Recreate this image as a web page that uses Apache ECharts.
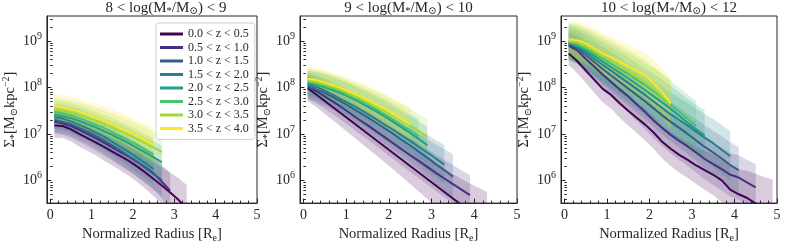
<!DOCTYPE html>
<html><head><meta charset="utf-8">
<script src="https://cdn.jsdelivr.net/npm/echarts@6/dist/echarts.min.js"></script>
<style>html,body{margin:0;padding:0;background:#fff}#c{width:793px;height:248px}</style>
</head><body><div id="c"></div>
<script>
// ---------------- data (log10 of surface density) ----------------
const radius = [0.1,0.3,0.5,0.7,0.9,1.1,1.3,1.5,1.7,1.9,2.1,2.3,2.5,2.7,2.9,3.1,3.3,3.5,3.7,3.9,4.1,4.3,4.5,4.7,4.9];
const zBins = ['0.0 < z < 0.5','0.5 < z < 1.0','1.0 < z < 1.5','1.5 < z < 2.0','2.0 < z < 2.5','2.5 < z < 3.0','3.0 < z < 3.5','3.5 < z < 4.0'];
const colors = ['#440154','#46327e','#365c8d','#277f8e','#1fa187','#4ac16d','#a0da39','#fde725'];
const massBins = [['8','9'],['9','10'],['10','12']];
const xTicks = [0,1,2,3,4,5];
const yTickExp = [6,7,8,9];
const yMinorMult = [2,3,4,5,6,7,8,9];

const panel1Median = [
  [7.18,7.17,7.10,7.00,6.91,6.82,6.72,6.62,6.52,6.42,6.30,6.17,6.03,5.89,5.74,5.58,5.40],
  [7.26,7.23,7.17,7.09,7.00,6.91,6.81,6.71,6.61,6.51,6.40,6.28,6.15,5.97,5.78],
  [7.30,7.26,7.21,7.13,7.05,6.96,6.86,6.75,6.64,6.52,6.40,6.27,6.14,6.00],
  [7.36,7.33,7.27,7.20,7.12,7.03,6.94,6.83,6.72,6.61,6.49,6.37,6.24],
  [7.41,7.38,7.34,7.28,7.21,7.14,7.06,6.98,6.89,6.80,6.70,6.60,6.50,6.39],
  [7.47,7.44,7.40,7.34,7.27,7.20,7.13,7.04,6.95,6.86,6.77,6.66,6.56],
  [7.53,7.50,7.46,7.41,7.35,7.29,7.22,7.14,7.06,6.98,6.89,6.80,6.71,6.61],
  [7.60,7.57,7.53,7.48,7.42,7.36,7.29,7.21,7.13,7.05,6.96,6.86,6.77]
];
const panel1Sigma = [
  [0.26,0.26,0.26,0.27,0.27,0.28,0.29,0.30,0.31,0.32,0.33,0.35,0.37,0.40,0.43,0.47,0.50],
  [0.25,0.25,0.25,0.26,0.26,0.27,0.28,0.29,0.30,0.31,0.32,0.33,0.34,0.36,0.38],
  [0.25,0.25,0.25,0.26,0.26,0.27,0.28,0.29,0.30,0.31,0.32,0.33,0.34,0.35],
  [0.25,0.25,0.25,0.26,0.26,0.27,0.28,0.29,0.30,0.31,0.32,0.33,0.34],
  [0.25,0.25,0.25,0.26,0.26,0.27,0.28,0.29,0.30,0.31,0.32,0.33,0.34,0.35],
  [0.26,0.26,0.26,0.27,0.27,0.28,0.29,0.30,0.31,0.32,0.33,0.34,0.35],
  [0.26,0.26,0.26,0.27,0.27,0.28,0.29,0.30,0.31,0.32,0.33,0.34,0.35,0.36],
  [0.27,0.27,0.27,0.28,0.28,0.29,0.30,0.31,0.32,0.33,0.34,0.35,0.36]
];
const panel2Median = [
  [7.98,7.85,7.71,7.57,7.43,7.29,7.15,7.01,6.87,6.73,6.59,6.45,6.31,6.17,6.03,5.89,5.75,5.61,5.47,5.33,5.19,5.05],
  [8.00,7.92,7.81,7.69,7.57,7.44,7.31,7.19,7.06,6.93,6.80,6.67,6.54,6.42,6.29,6.16,6.04,5.92,5.80,5.68],
  [8.03,7.96,7.88,7.79,7.69,7.58,7.47,7.36,7.24,7.12,7.00,6.87,6.75,6.62,6.49,6.35,6.22,6.08],
  [8.07,8.01,7.93,7.84,7.74,7.64,7.54,7.43,7.32,7.20,7.09,6.97,6.85,6.72,6.60,6.47,6.34],
  [8.10,8.07,8.01,7.94,7.87,7.78,7.69,7.59,7.49,7.38,7.26,7.14,7.02,6.89,6.76],
  [8.12,8.09,8.03,7.97,7.90,7.81,7.72,7.63,7.53,7.42,7.31,7.19,7.07,6.95],
  [8.15,8.12,8.07,8.01,7.94,7.86,7.78,7.69,7.60,7.50,7.39,7.29,7.18,7.06,6.94],
  [8.19,8.16,8.11,8.05,7.98,7.90,7.82,7.73,7.63,7.54,7.43,7.32,7.21]
];
const panel2Sigma = [
  [0.27,0.27,0.28,0.28,0.29,0.30,0.31,0.32,0.33,0.34,0.35,0.37,0.39,0.41,0.43,0.46,0.49,0.52,0.56,0.60,0.65,0.70],
  [0.26,0.26,0.27,0.27,0.28,0.29,0.30,0.31,0.32,0.33,0.34,0.35,0.36,0.37,0.38,0.39,0.40,0.41,0.42,0.43],
  [0.26,0.26,0.27,0.27,0.28,0.29,0.30,0.31,0.32,0.33,0.34,0.35,0.36,0.38,0.40,0.42,0.45,0.48],
  [0.26,0.26,0.27,0.27,0.28,0.29,0.30,0.31,0.32,0.33,0.34,0.35,0.36,0.37,0.38,0.40,0.42],
  [0.26,0.26,0.27,0.27,0.28,0.29,0.30,0.31,0.32,0.33,0.34,0.35,0.36,0.38,0.40],
  [0.26,0.26,0.27,0.27,0.28,0.29,0.30,0.31,0.32,0.33,0.34,0.35,0.36,0.38],
  [0.26,0.26,0.27,0.27,0.28,0.29,0.30,0.31,0.32,0.33,0.34,0.35,0.36,0.37,0.38],
  [0.26,0.26,0.27,0.27,0.28,0.29,0.30,0.31,0.32,0.33,0.34,0.35,0.36]
];
const panel3Median = [
  [8.73,8.57,8.37,8.17,7.97,7.84,7.66,7.50,7.35,7.20,7.03,6.83,6.68,6.55,6.44,6.32,6.22,6.12,6.00,5.80,5.70,5.62,5.50,5.35,5.20],
  [8.90,8.80,8.62,8.45,8.28,8.12,7.96,7.81,7.64,7.47,7.29,7.13,6.98,6.85,6.73,6.60,6.46,6.35,6.24,6.12,6.06,5.95,5.85],
  [8.93,8.85,8.70,8.55,8.40,8.26,8.12,7.98,7.84,7.70,7.55,7.40,7.26,7.13,7.00,6.86,6.72,6.60,6.47,6.33,6.22],
  [8.96,8.88,8.76,8.62,8.49,8.36,8.23,8.10,7.97,7.84,7.70,7.56,7.42,7.30,7.18,7.05,6.92,6.80,6.66,6.52],
  [8.96,8.90,8.80,8.68,8.56,8.44,8.32,8.20,8.07,7.94,7.81,7.68,7.54,7.39,7.24,7.10,6.97],
  [8.98,8.93,8.84,8.73,8.62,8.51,8.40,8.29,8.17,8.05,7.92,7.78,7.63,7.48,7.32,7.17],
  [9.00,8.97,8.89,8.79,8.68,8.58,8.47,8.36,8.24,8.11,7.97,7.81,7.64],
  [9.04,9.02,8.95,8.84,8.73,8.65,8.56,8.46,8.36,8.26,8.10,7.90,7.66]
];
const panel3Sigma = [
  [0.25,0.26,0.27,0.28,0.29,0.30,0.31,0.32,0.33,0.34,0.35,0.36,0.37,0.38,0.39,0.40,0.42,0.44,0.47,0.50,0.54,0.58,0.64,0.72,0.82],
  [0.28,0.29,0.30,0.31,0.32,0.33,0.34,0.35,0.36,0.37,0.38,0.39,0.40,0.41,0.42,0.43,0.44,0.45,0.46,0.47,0.48,0.49,0.50],
  [0.30,0.31,0.32,0.33,0.34,0.35,0.36,0.37,0.38,0.39,0.40,0.41,0.42,0.43,0.44,0.45,0.46,0.47,0.48,0.49,0.50],
  [0.35,0.36,0.37,0.38,0.39,0.40,0.41,0.42,0.43,0.44,0.45,0.46,0.47,0.48,0.49,0.50,0.51,0.52,0.53,0.54],
  [0.38,0.39,0.40,0.41,0.42,0.43,0.44,0.45,0.46,0.47,0.48,0.49,0.50,0.51,0.52,0.53,0.54],
  [0.40,0.40,0.41,0.42,0.43,0.44,0.45,0.46,0.47,0.48,0.49,0.50,0.51,0.52,0.53,0.54],
  [0.40,0.40,0.41,0.42,0.43,0.44,0.45,0.46,0.47,0.48,0.49,0.50,0.52],
  [0.40,0.40,0.41,0.42,0.43,0.44,0.45,0.46,0.47,0.48,0.50,0.52,0.55]
];

// ---------------- layout / style ----------------
const FONT = "'Liberation Serif','DejaVu Serif',serif";
const INK = '#262626';
const X_MIN = -0.08, X_MAX = 5, Y_MIN = 5.51, Y_MAX = 9.54;
const grids = [
  {left: 40, top: 16, width: 217, height: 198},
  {left: 300, top: 16, width: 217, height: 198},
  {left: 561, top: 16, width: 216, height: 198}
];
const titleCenters = [166, 408.5, 669];
const medians = [panel1Median, panel2Median, panel3Median];
const sigmas = [panel1Sigma, panel2Sigma, panel3Sigma];

const xMinor = [];
for (let v = 0; v <= 5.001; v += 0.2) { const r = Math.round(v * 10) / 10; if (r % 1 !== 0) xMinor.push(r); }
const yMinor = [];
for (let n = 5; n <= 9; n++) for (const m of yMinorMult) { const v = n + Math.log10(m); if (v > Y_MIN && v < Y_MAX) yMinor.push(v); }

const subStyle = {fontFamily: FONT, fontSize: 10, padding: [7, 0, 0, 0], color: INK};
const supStyle = {fontFamily: FONT, fontSize: 10, padding: [0, 0, 9, 0], color: INK};

function bandRenderer(color) {
  return function (params, api) {
    if (params.dataIndexInside !== 0) return null;
    const n = params.dataInsideLength;
    const up = [], lo = [];
    for (let j = 0; j < n; j++) {
      const x = api.value(0, j);
      lo.push(api.coord([x, api.value(1, j)]));
      up.push(api.coord([x, api.value(2, j)]));
    }
    return {
      type: 'polygon', silent: true,
      shape: {points: up.concat(lo.reverse())},
      style: {fill: color, opacity: 0.2, stroke: null}
    };
  };
}

const option = {
  animation: false,
  backgroundColor: '#fff',
  grid: grids.map(g => Object.assign({show: true, borderColor: INK, borderWidth: 1, backgroundColor: 'transparent'}, g)),
  xAxis: [], yAxis: [], series: [],
  legend: {
    data: zBins, orient: 'vertical', left: 156, top: 23,
    icon: 'rect', itemWidth: 23, itemHeight: 3, itemGap: 1.5,
    padding: [5, 6, 5, 4], borderColor: '#cfcfcf', borderWidth: 1, borderRadius: 3,
    backgroundColor: 'rgba(255,255,255,0.85)',
    textStyle: {fontFamily: FONT, fontSize: 12, color: INK, lineHeight: 12}
  },
  graphic: []
};

grids.forEach((g, gi) => {
  option.xAxis.push({
    type: 'value', gridIndex: gi, min: X_MIN, max: X_MAX, position: 'bottom',
    axisLine: {show: true, onZero: false, lineStyle: {color: INK, width: 1}},
    axisTick: {show: true, inside: true, length: 4.5, customValues: xTicks, lineStyle: {color: INK}},
    axisLabel: {customValues: xTicks, fontFamily: FONT, fontSize: 14, color: INK, margin: 5},
    splitLine: {show: false},
    name: 'Normalized Radius [R{s|e}]', nameLocation: 'middle', nameGap: 19,
    nameTextStyle: {fontFamily: FONT, fontSize: 14.5, color: INK, rich: {s: subStyle}}
  });
  option.xAxis.push({
    type: 'value', gridIndex: gi, min: X_MIN, max: X_MAX, position: 'bottom',
    axisLine: {show: false},
    axisTick: {show: true, inside: true, length: 2.5, customValues: xMinor, lineStyle: {color: INK}},
    axisLabel: {show: false}, splitLine: {show: false}
  });
  option.yAxis.push({
    type: 'value', gridIndex: gi, min: Y_MIN, max: Y_MAX, position: 'left',
    axisLine: {show: true, onZero: false, lineStyle: {color: INK, width: 1}},
    axisTick: {show: true, inside: true, length: 4.5, customValues: yTickExp, lineStyle: {color: INK}},
    axisLabel: {customValues: yTickExp, margin: 5, formatter: v => '{b|10}{e|' + v + '}',
      rich: {b: {fontFamily: FONT, fontSize: 14, color: INK}, e: {fontFamily: FONT, fontSize: 10, color: INK, padding: [0, 0, 10, 0]}}},
    splitLine: {show: false},
    name: 'Σ{s|*}[M{s|⊙}kpc{p|−2}]', nameLocation: 'middle', nameGap: 25, nameRotate: 90,
    nameTextStyle: {fontFamily: FONT, fontSize: 14.5, color: INK, rich: {s: subStyle, p: supStyle}}
  });
  option.yAxis.push({
    type: 'value', gridIndex: gi, min: Y_MIN, max: Y_MAX, position: 'left',
    axisLine: {show: false},
    axisTick: {show: true, inside: true, length: 2.5, customValues: yMinor, lineStyle: {color: INK}},
    axisLabel: {show: false}, splitLine: {show: false}
  });

  const xi = gi * 2, yi = gi * 2;
  const med = medians[gi], sig = sigmas[gi];
  // shaded bands (median ± scatter)
  med.forEach((arr, k) => {
    option.series.push({
      type: 'custom', name: 'band', xAxisIndex: xi, yAxisIndex: yi, silent: true, clip: true, z: 1,
      encode: {x: 0, y: [1, 2]},
      renderItem: bandRenderer(colors[k]),
      data: arr.map((v, i) => [radius[i], v - sig[k][i], v + sig[k][i]])
    });
  });
  // median lines
  med.forEach((arr, k) => {
    option.series.push({
      type: 'line', name: zBins[k], xAxisIndex: xi, yAxisIndex: yi, silent: true,
      symbol: 'none', z: 3, color: colors[k],
      lineStyle: {color: colors[k], width: 2},
      itemStyle: {color: colors[k]},
      data: arr.map((v, i) => [radius[i], v])
    });
  });
  option.graphic.push({
    type: 'text', x: titleCenters[gi], y: 8,
    style: {
      text: massBins[gi][0] + ' < log(M{s|*}/M{s|⊙}) < ' + massBins[gi][1],
      fontFamily: FONT, fontSize: 15, fill: INK, align: 'center', verticalAlign: 'middle',
      rich: {s: {fontFamily: FONT, fontSize: 10.5, padding: [7, 0, 0, 0], fill: INK}}
    }
  });
});

const chart = echarts.init(document.getElementById('c'), null, {renderer: 'canvas'});
chart.setOption(option);
</script>
</body></html>
